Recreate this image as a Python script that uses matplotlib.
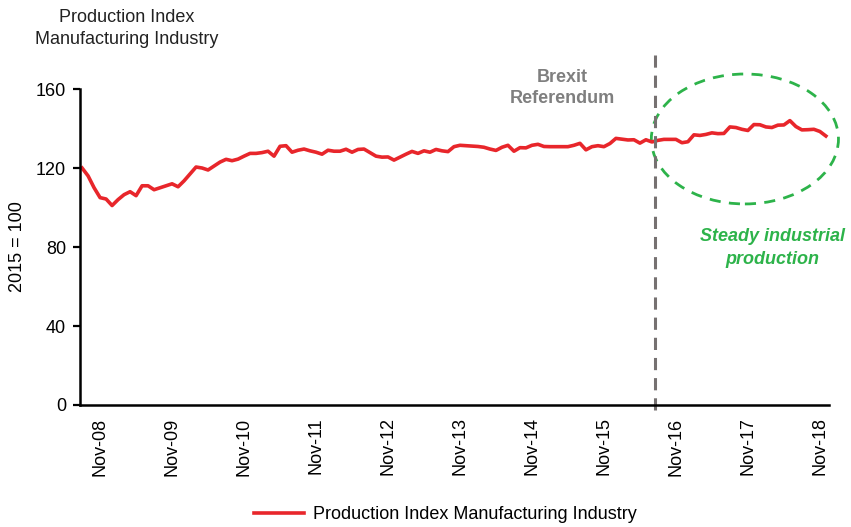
import matplotlib
matplotlib.use("Agg")
import matplotlib.pyplot as plt
from matplotlib.patches import Ellipse

plt.rcParams["font.family"] = ["Liberation Sans", "DejaVu Sans"]

# monthly production index, Aug-08 .. Dec-18 (2015 = 100)
values = [
    120, 116, 110, 105, 104.3, 101, 104, 106.5, 108, 106,
    111, 111, 109, 110, 111, 112, 110.5, 113.5, 117, 120.5,
    120, 119, 121, 123, 124.4, 123.7, 124.5, 126, 127.4, 127.4,
    127.8, 128.5, 126, 131, 131.3, 128, 129, 129.6, 128.7, 128,
    127, 129, 128.5, 128.5, 129.5, 128, 129.4, 129.6, 127.8, 126,
    125.5, 125.6, 124, 125.5, 127, 128.4, 127.4, 128.7, 128, 129.4,
    128.7, 128.3, 130.8, 131.5, 131.3, 131.1, 130.9, 130.5, 129.6, 128.9,
    130.5, 131.5, 128.5, 130.3, 130.2, 131.5, 132, 130.9, 130.8, 130.8,
    130.8, 130.8, 131.5, 132.5, 129.2, 130.8, 131.3, 130.8, 132.4, 135,
    134.6, 134.2, 134.3, 132.6, 134.3, 133.2, 134, 134.5, 134.5, 134.5,
    132.8, 133.3, 136.8, 136.5, 137, 137.8, 137.4, 137.5, 140.8, 140.5,
    139.6, 139, 142, 141.9, 140.8, 140.5, 141.7, 141.8, 144, 141,
    139.3, 139.4, 139.6, 138.5, 136.2,
]
months = list(range(len(values)))
tick_months = [3 + 12 * k for k in range(11)]
tick_labels = ["Nov-%02d" % (8 + k) for k in range(11)]
y_ticks = [0, 40, 80, 120, 160]
brexit_month = 95.5

fs = 13

fig = plt.figure(figsize=(8.51, 5.27), dpi=100)
ax = fig.add_axes([0.094, 0.2315, 0.880, 0.5996])

line, = ax.plot(months, values, color="#e8262b", lw=2.6,
                label="Production Index Manufacturing Industry")

ax.set_xlim(-0.35, 124.5)
ax.set_ylim(0, 160)
ax.set_yticks(y_ticks)
ax.set_xticks(tick_months)
ax.set_xticklabels(tick_labels, rotation=90, fontsize=fs)
ax.tick_params(axis="x", length=0, pad=9)
ax.tick_params(axis="y", length=5, width=1.6, labelsize=fs, pad=5)
for s in ["top", "right"]:
    ax.spines[s].set_visible(False)
for s in ["left", "bottom"]:
    ax.spines[s].set_linewidth(1.8)
ax.set_ylabel("2015 = 100", fontsize=fs, labelpad=7)

# Brexit referendum marker
trans = ax.get_xaxis_transform()
ax.plot([brexit_month, brexit_month], [-0.016, 1.108], transform=trans,
        color="#767171", lw=2.2, ls=(0, (4, 2.6)), clip_on=False)
ax.text(80, 0.943, "Brexit\nReferendum", transform=trans, ha="center",
        va="bottom", fontsize=fs, fontweight="bold", color="#7f7f7f",
        linespacing=1.3)

# ellipse round the post-referendum period
ell = Ellipse((110.5, 134.7), 31.2, 65.8, fill=False, ec="#2db34a",
              lw=2.0, ls=(0, (4, 3)), clip_on=False)
ax.add_patch(ell)
ax.text(115.1, 79.5, "Steady industrial\nproduction", ha="center", va="center",
        fontsize=fs, fontweight="bold", style="italic", color="#2db34a",
        linespacing=1.45)

fig.text(0.149, 0.946, "Production Index\nManufacturing Industry", ha="center",
         va="center", fontsize=fs, color="#222222", linespacing=1.4)

fig.legend(handles=[line], loc="center", bbox_to_anchor=(0.523, 0.024),
           frameon=False, fontsize=fs, handlelength=2.8, handletextpad=0.45)

fig.savefig("out.png", dpi=100, facecolor="white")
